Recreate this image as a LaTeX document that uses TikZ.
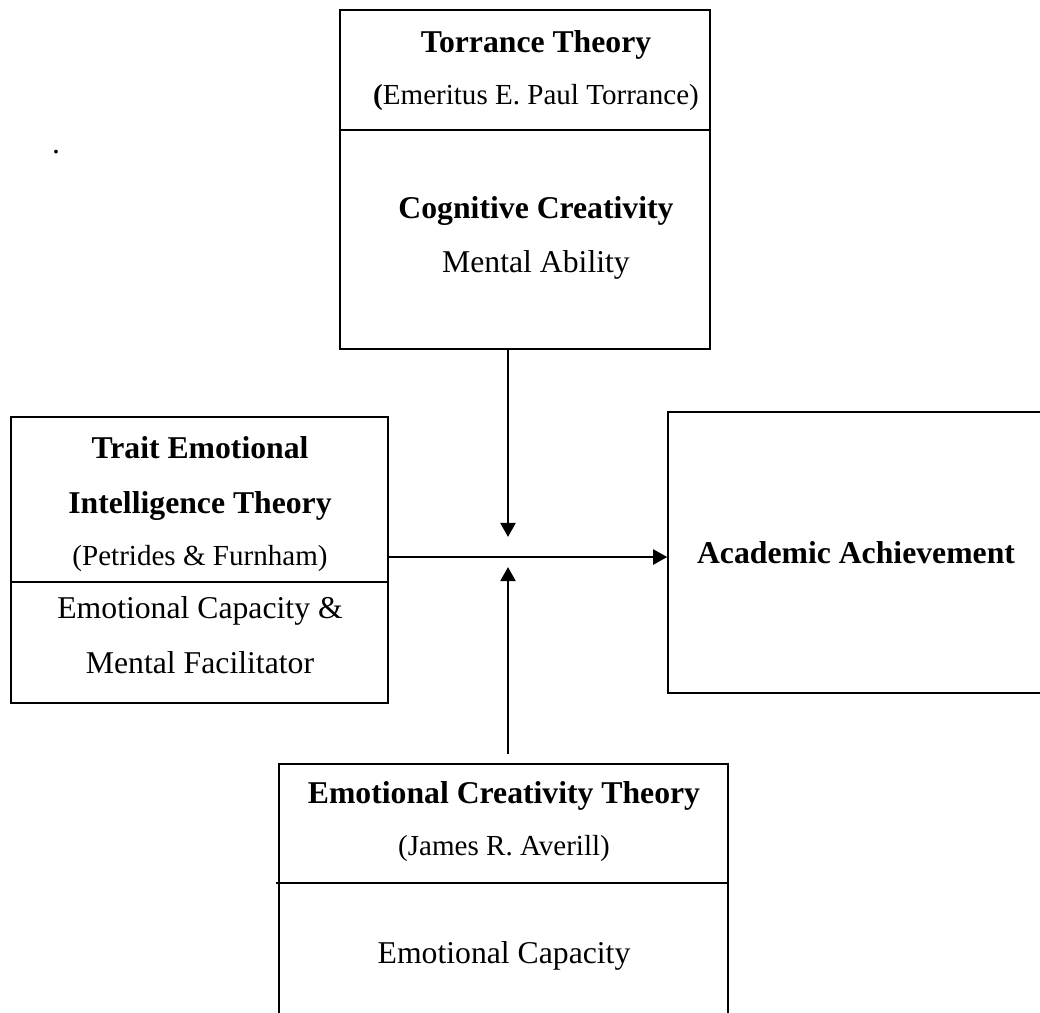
\documentclass[tikz,border=0pt]{standalone}
\usepackage{fontspec}
\setmainfont{Liberation Serif}
\usetikzlibrary{positioning, fit, calc, arrows.meta}

\tikzset{
    box/.style={draw, line width=0.6pt, inner sep=0pt},
    txt/.style={anchor=base, inner sep=0pt, font=\fontsize{12}{14}\selectfont},
    ttl/.style={txt, font=\fontsize{12}{14}\selectfont\bfseries},
    small/.style={txt, font=\fontsize{11}{13}\selectfont},
    arr/.style={line width=0.75pt, -{Triangle[length=5.3pt, width=5.7pt]}}
}

\begin{document}
\begin{tikzpicture}[x=0.3785pt, y=-0.3785pt]
    \useasboundingbox (0,0) rectangle (1040,1012);
    \clip (0,0) rectangle (1040,1012);

    % Boxes
    \node[box, fit={(340,10) (710,349)}] (tor) {};
    \node[box, fit={(11,417) (388,703)}] (tei) {};
    \node[box, fit={(668,412) (1060,693)}] (ach) {};
    \node[box, fit={(279,764) (728,1040)}] (ect) {};

    % Dividing lines
    \draw[line width=0.6pt] (tor.west |- 0,130) -- (tor.east |- 0,130);
    \draw[line width=0.6pt] (tei.west |- 0,582) -- (tei.east |- 0,582);
    \draw[line width=0.6pt] (276,883) -- (ect.east |- 0,883);

    % Texts
    \node[txt] (dot) at (56,153) {.};
    \node[ttl] (tor-1) at (536,52) {Torrance Theory};
    \node[small] (tor-2) at (536,104) {{\bfseries(}Emeritus E. Paul Torrance)};
    \node[ttl] (tor-3) at (536,218) {Cognitive Creativity};
    \node[txt] (tor-4) at (536,272) {Mental Ability};

    \node[ttl] (tei-1) at (200,458) {Trait Emotional};
    \node[ttl] (tei-2) at (200,513) {Intelligence Theory};
    \node[small] (tei-3) at (200,565) {(Petrides \& Furnham)};
    \node[txt] (tei-4) at (200,618) {Emotional Capacity \&};
    \node[txt] (tei-5) at (200,673) {Mental Facilitator};

    \node[ttl] (ach-1) at (856,563) {Academic Achievement};

    \node[ttl] (ect-1) at (504,803) {Emotional Creativity Theory};
    \node[small] (ect-2) at (504,855) {(James R. Averill)};
    \node[txt] (ect-3) at (504,963) {Emotional Capacity};

    % Arrows
    \coordinate (jn) at (508,557);
    \draw[arr, shorten >=7.6pt] (tor.south -| jn) -- (jn);
    \draw[arr, shorten <=3.4pt, shorten >=3.8pt] (ect.north -| jn) -- (jn);
    \draw[arr] (tei.east |- jn) -- (ach.west |- jn);
\end{tikzpicture}
\end{document}
